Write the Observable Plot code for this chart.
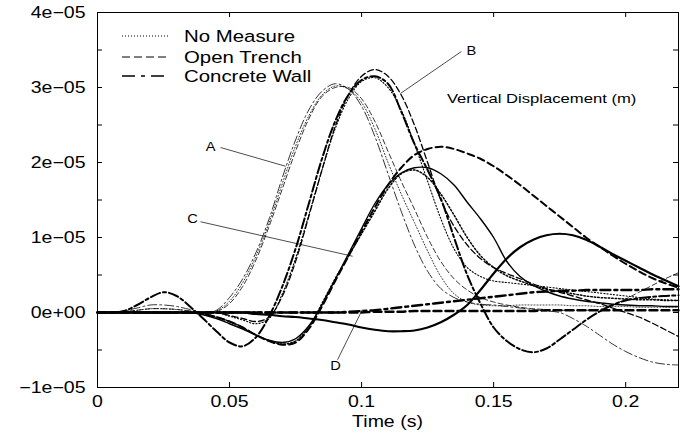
<!DOCTYPE html>
<html><head><meta charset="utf-8">
<script src="https://cdn.jsdelivr.net/npm/d3@7"></script>
<script src="https://cdn.jsdelivr.net/npm/@observablehq/plot@0.6"></script>
<style>
html,body{margin:0;padding:0;background:#fff;}
#chart{position:relative;width:688px;height:435px;}
svg{font-family:"Liberation Sans",Arial,Helvetica,sans-serif;}
</style></head><body><div id="chart"></div>
<script>
// ---- data (vertical displacement in units of 1e-5 m) ----
const UNIT = 1e-5;
const time = [0,0.005,0.01,0.015,0.02,0.025,0.03,0.035,0.04,0.045,
  0.05,0.055,0.06,0.065,0.07,0.075,0.08,0.085,0.09,0.095,
  0.1,0.105,0.11,0.115,0.12,0.125,0.13,0.135,0.14,0.145,
  0.15,0.155,0.16,0.165,0.17,0.175,0.18,0.185,0.19,0.195,
  0.2,0.205,0.21,0.215,0.22];

const A_noMeasure = [0,0,0.01,0.03,0.05,0.05,0.04,0.02,0,0.02,
  0.15,0.4,0.75,1.2,1.72,2.22,2.62,2.9,3.02,2.98,
  2.8,2.45,2.0,1.58,1.2,0.82,0.48,0.25,0.14,0.1,
  0.09,0.09,0.1,0.1,0.1,0.1,0.09,0.09,0.08,0.08,
  0.08,0.07,0.07,0.07,0.07];
const A_openTrench = [0,0,0.01,0.03,0.05,0.05,0.04,0.02,0,0.01,
  0.12,0.35,0.7,1.15,1.65,2.15,2.58,2.88,3.0,3.0,
  2.85,2.55,2.15,1.75,1.38,1.0,0.68,0.45,0.3,0.2,
  0.14,0.1,0.07,0.05,0.04,0.03,0.03,0.03,0.04,0.1,
  0.18,0.27,0.36,0.45,0.53];
const A_concreteWall = [0,0,0.02,0.06,0.1,0.1,0.08,0.04,0,0.03,
  0.2,0.45,0.8,1.25,1.8,2.3,2.7,2.95,3.05,2.98,
  2.75,2.35,1.85,1.35,0.9,0.55,0.32,0.2,0.14,0.11,
  0.1,0.08,0.06,0.04,0.02,0,-0.08,-0.18,-0.3,-0.42,
  -0.52,-0.6,-0.66,-0.69,-0.7];

const B_noMeasure = [0,0,0,0,0,0,0,0,0,0,
  -0.05,-0.1,-0.15,-0.08,0.25,0.72,1.3,1.9,2.45,2.85,
  3.08,3.13,3.0,2.7,2.25,1.75,1.25,0.85,0.6,0.48,
  0.42,0.4,0.38,0.36,0.34,0.32,0.3,0.28,0.26,0.24,
  0.22,0.2,0.18,0.17,0.16];
const B_openTrench = [0,0,0,0,0,0,0,0,0,0,
  -0.04,-0.08,-0.12,-0.06,0.22,0.68,1.28,1.9,2.48,2.9,
  3.15,3.24,3.15,2.9,2.5,2.0,1.5,1.15,0.9,0.72,
  0.6,0.52,0.45,0.38,0.32,0.27,0.22,0.17,0.12,0.06,
  0,-0.06,-0.14,-0.23,-0.32];
const B_concreteWall = [0,0,0.02,0.1,0.2,0.27,0.22,0.08,-0.08,-0.25,
  -0.4,-0.45,-0.33,-0.05,0.35,0.85,1.45,2.05,2.55,2.9,
  3.1,3.15,3.05,2.68,2.25,1.9,1.52,1.0,0.5,0.12,
  -0.2,-0.38,-0.49,-0.53,-0.48,-0.36,-0.23,-0.1,0.01,0.1,
  0.16,0.19,0.21,0.22,0.23];

const C_noMeasure = [0,0,0,0,0,0,0,0,-0.02,-0.06,
  -0.12,-0.2,-0.3,-0.38,-0.42,-0.38,-0.2,0.12,0.45,0.75,
  1.05,1.35,1.65,1.85,1.9,1.8,1.58,1.3,1.0,0.76,
  0.6,0.49,0.42,0.36,0.31,0.28,0.25,0.22,0.2,0.19,
  0.18,0.17,0.17,0.16,0.16];
const C_openTrench = [0,0,0,0,0,0,0,0,-0.02,-0.06,
  -0.12,-0.2,-0.3,-0.38,-0.43,-0.4,-0.22,0.08,0.42,0.75,
  1.08,1.4,1.7,1.93,2.1,2.18,2.21,2.18,2.12,2.05,
  1.95,1.83,1.7,1.56,1.42,1.28,1.14,1.0,0.88,0.76,
  0.65,0.55,0.46,0.39,0.33];
const C_concreteWall = [0,0,0,0,0,0,0,0,-0.03,-0.08,
  -0.15,-0.22,-0.3,-0.37,-0.4,-0.35,-0.18,0.1,0.44,0.78,
  1.12,1.45,1.7,1.86,1.93,1.93,1.85,1.7,1.47,1.25,
  1.0,0.68,0.48,0.36,0.28,0.22,0.18,0.15,0.13,0.11,
  0.1,0.09,0.09,0.08,0.08];

const D_noMeasure = [0,0,0,0,0,0,0,0,0,0,
  0,0,0,0,0,0,0,0,0,0,
  0,0.01,0.01,0.01,0.02,0.02,0.02,0.02,0.02,0.02,
  0.02,0.02,0.02,0.02,0.03,0.03,0.03,0.03,0.03,0.03,
  0.03,0.03,0.03,0.03,0.03];
const D_openTrench = [0,0,0,0,0,0,0,0,0,0,
  0,0,0,0,0,0,0,0,0,0.01,
  0.02,0.03,0.05,0.07,0.09,0.11,0.13,0.15,0.17,0.19,
  0.21,0.23,0.25,0.27,0.28,0.29,0.29,0.3,0.3,0.3,
  0.3,0.3,0.31,0.31,0.31];
const D_concreteWall = [0,0,0,0,0,0,0,0,0,0,
  0,0,-0.02,-0.03,-0.05,-0.06,-0.08,-0.1,-0.13,-0.16,
  -0.2,-0.23,-0.25,-0.25,-0.24,-0.2,-0.13,-0.03,0.1,0.3,
  0.52,0.72,0.87,0.97,1.03,1.05,1.03,0.97,0.88,0.78,
  0.69,0.6,0.51,0.43,0.35];

const legendLabels = ["No Measure","Open Trench","Concrete Wall"];
const xTicks = [0,0.05,0.1,0.15,0.2];
const xTickLabels = ["0","0.05","0.1","0.15","0.2"];
const yMajor = [-1,0,1,2,3,4];
const yTickLabels = ["\u22121e\u221205","0e+00","1e\u221205","2e\u221205","3e\u221205","4e\u221205"];
const yMinor = [-1,-0.5,0,0.5,1,1.5,2,2.5,3,3.5,4];

// annotation letters: label position and leader end (time, value in 1e-5)
const annLetters = ["A","B","C","D"];
const annLabelT = [0.0428,0.1416,0.0360,0.0901];
const annLabelV = [2.21,3.48,1.24,-0.72];
const annFromT = [0.0466,0.1378,0.0390,0.0909];
const annFromV = [2.20,3.48,1.21,-0.63];
const annToT = [0.0712,0.1147,0.0966,0.1003];
const annToV = [1.95,2.92,0.75,0.04];
const noteText = "Vertical Displacement (m)";
const noteT = 0.1325, noteV = 2.84;

// ---- styles ----
const series = [
  {v:A_noMeasure, dash:"1,2", w:0.8},
  {v:A_openTrench, dash:"5,3", w:0.8},
  {v:A_concreteWall, dash:"9,3,2,3", w:0.8},
  {v:B_noMeasure, dash:"1.2,2", w:1.1},
  {v:B_openTrench, dash:"6,3", w:1.3},
  {v:B_concreteWall, dash:"10,3,3,3", w:2.0},
  {v:C_noMeasure, dash:"1.5,2", w:1.5},
  {v:C_openTrench, dash:"7,4", w:2.0},
  {v:C_concreteWall, dash:null, w:1.4},
  {v:D_noMeasure, dash:"8,4", w:2.4},
  {v:D_openTrench, dash:"10,4,3,4", w:2.4},
  {v:D_concreteWall, dash:null, w:2.2}
];

const W = 688, H = 435, ML = 97, MR = 10, MT = 12, MB = 48, TICK = 5;
const innerW = W - ML - MR, innerH = H - MT - MB;

const marks = [];
for (const s of series) {
  const rows = time.map((t,i)=>({t, v:s.v[i]*UNIT}));
  const opts = {x:"t", y:"v", stroke:"black", strokeWidth:s.w, curve:"catmull-rom"};
  if (s.dash) opts.strokeDasharray = s.dash;
  marks.push(Plot.line(rows, opts));
}
const ann = annLetters.map((l,i)=>({l, lt:annLabelT[i], lv:annLabelV[i]*UNIT,
  ft:annFromT[i], fv:annFromV[i]*UNIT, tt:annToT[i], tv:annToV[i]*UNIT}));
marks.push(Plot.link(ann, {x1:"ft", y1:"fv", x2:"tt", y2:"tv", stroke:"black", strokeWidth:0.7}));
marks.push(Plot.text(ann, {x:"lt", y:"lv", text:"l", fontSize:12, fill:"black"}));

const yMajorV = yMajor.map(d=>d*UNIT);
const yMinorV = yMinor.map(d=>d*UNIT);
marks.push(
  Plot.frame({stroke:"black", strokeWidth:1}),
  // inward ticks
  Plot.tickY(yMinorV, {y:d=>d, stroke:"black", strokeWidth:1, insetRight: innerW - TICK}),
  Plot.tickY(yMinorV, {y:d=>d, stroke:"black", strokeWidth:1, insetLeft: innerW - TICK}),
  Plot.tickX(xTicks, {x:d=>d, stroke:"black", strokeWidth:1, insetTop: innerH - TICK}),
  Plot.tickX(xTicks, {x:d=>d, stroke:"black", strokeWidth:1, insetBottom: innerH - TICK}),
  Plot.axisY(yMajorV, {anchor:"left", tickSize:0, tickPadding:12, fontSize:16, label:null,
    tickFormat:d=>yTickLabels[yMajorV.indexOf(d)]}),
  Plot.axisX(xTicks, {anchor:"bottom", tickSize:0, tickPadding:8, fontSize:16, label:null,
    tickFormat:d=>xTickLabels[xTicks.indexOf(d)]})
);

const plot = Plot.plot({
  width:W, height:H,
  marginLeft:ML, marginRight:MR, marginTop:MT, marginBottom:MB,
  x:{domain:[0,0.22]},
  y:{domain:[-1*UNIT,4*UNIT]},
  style:{fontFamily:'"Liberation Sans",Arial,sans-serif', background:"white", color:"black"},
  marks
});
document.getElementById("chart").appendChild(plot);

function stretch(el, s) {
  const b = el.getBBox();
  const a = getComputedStyle(el).textAnchor;
  const ax = a === "end" ? b.x + b.width : a === "middle" ? b.x + b.width/2 : b.x;
  const t = el.getAttribute("transform") || "";
  el.setAttribute("transform", `${t} translate(${ax},0) scale(${s},1) translate(${-ax},0)`);
}
const svg = d3.select(plot);
svg.selectAll("text").each(function(){ stretch(this, 1.22); });

const xs = plot.scale("x"), ys = plot.scale("y");
const font = '"Liberation Sans",Arial,sans-serif';
// axis title
const xr = xs.range;
const tt = svg.append("text").attr("x",(xr[0]+xr[1])/2).attr("y",427)
  .attr("text-anchor","middle").attr("font-size",16).attr("font-family",font).attr("fill","black").text("Time (s)");
stretch(tt.node(), 1.22);
// note
const nt = svg.append("text").attr("x",xs.apply(noteT)).attr("y",ys.apply(noteV*UNIT)+4.5)
  .attr("text-anchor","start").attr("font-size",13).attr("font-family",font).attr("fill","black").text(noteText);
stretch(nt.node(), 1.28);
// legend
const legDash = ["1,2","8,4","13,6,4,6"];
const legW = [1.1,1.1,1.5];
const legY = [36,57,76];
const lg = svg.append("g");
legendLabels.forEach((l,i)=>{
  lg.append("line").attr("x1",122).attr("x2",170).attr("y1",legY[i]).attr("y2",legY[i])
    .attr("stroke","black").attr("stroke-width",legW[i]).attr("stroke-dasharray",legDash[i]);
  const t = lg.append("text").attr("x",184).attr("y",legY[i]+6).attr("text-anchor","start")
    .attr("font-size",17).attr("font-family",font).attr("fill","black").text(l);
  stretch(t.node(), 1.2);
});
</script>
</body></html>
